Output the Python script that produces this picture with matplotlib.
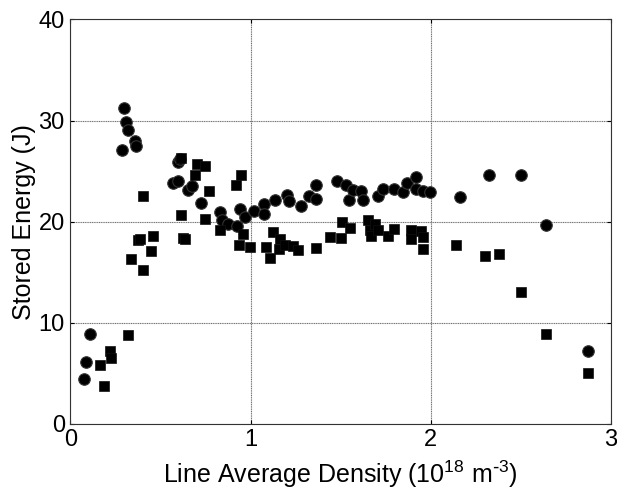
import numpy as np
import matplotlib
matplotlib.use("Agg")
from matplotlib import pyplot as plt

plt.rcParams['font.family'] = ['Liberation Sans', 'DejaVu Sans']
plt.rcParams['mathtext.default'] = 'regular'
plt.rcParams['axes.unicode_minus'] = False

# circles
dens_circ = [0.077, 0.085, 0.107, 0.286, 0.299, 0.307, 0.319, 0.360, 0.366,
             0.571, 0.595, 0.600, 0.606, 0.655, 0.674, 0.724, 0.831, 0.840,
             0.877, 0.923, 0.942, 0.970, 1.018, 1.077, 1.077, 1.135, 1.200,
             1.214, 1.279, 1.325, 1.362, 1.366, 1.482, 1.528, 1.544, 1.569,
             1.616, 1.625, 1.708, 1.736, 1.795, 1.847, 1.869, 1.917, 1.921,
             1.957, 1.995, 2.165, 2.323, 2.503, 2.642, 2.876]
energy_circ = [4.4, 6.1, 8.9, 27.1, 31.2, 29.9, 29.1, 28.0, 27.5,
               23.8, 25.9, 24.0, 26.2, 23.1, 23.5, 21.8, 21.0, 20.2,
               19.8, 19.6, 21.3, 20.5, 21.1, 21.7, 20.8, 22.1, 22.6,
               22.0, 21.5, 22.5, 22.2, 23.6, 24.0, 23.6, 22.1, 23.1,
               23.0, 22.1, 22.5, 23.2, 23.2, 22.9, 23.8, 24.4, 23.2,
               23.0, 22.9, 22.4, 24.6, 24.6, 19.7, 7.2]

# squares
dens_sq = [0.164, 0.186, 0.220, 0.223, 0.319, 0.338, 0.373, 0.385, 0.406,
           0.406, 0.445, 0.460, 0.615, 0.613, 0.626, 0.639, 0.691, 0.704,
           0.747, 0.750, 0.770, 0.830, 0.917, 0.935, 0.950, 0.957, 0.996,
           1.085, 1.107, 1.126, 1.159, 1.162, 1.190, 1.237, 1.261, 1.362,
           1.440, 1.500, 1.510, 1.551, 1.652, 1.662, 1.671, 1.689, 1.708,
           1.763, 1.797, 1.893, 1.893, 1.948, 1.957, 1.957, 2.142, 2.300,
           2.377, 2.503, 2.642, 2.876]
energy_sq = [5.8, 3.8, 7.2, 6.5, 8.8, 16.3, 18.2, 18.3, 15.2,
             22.5, 17.1, 18.6, 26.3, 20.7, 18.4, 18.3, 24.6, 25.7,
             25.5, 20.3, 23.0, 19.2, 23.6, 17.7, 24.6, 18.8, 17.5,
             17.5, 16.4, 19.0, 17.3, 18.3, 17.7, 17.6, 17.2, 17.4,
             18.5, 18.4, 20.0, 19.4, 20.2, 19.2, 18.6, 19.8, 19.2,
             18.6, 19.3, 19.2, 18.3, 19.1, 18.5, 17.3, 17.7, 16.6,
             16.8, 13.0, 8.9, 5.0]

xticks = [0, 1, 2, 3]
yticks = [0, 10, 20, 30, 40]

fig = plt.figure(figsize=(6.17, 4.97), dpi=100)
ax = fig.add_axes([0.114, 0.147, 0.876, 0.814])

ax.plot(dens_circ, energy_circ, 'o', color='black', markersize=8.3,
        markeredgecolor='#333333', markeredgewidth=0.8)
ax.plot(dens_sq, energy_sq, 's', color='black', markersize=7.8,
        markeredgecolor='#111111', markeredgewidth=0.5)

ax.set_xlim(0, 3)
ax.set_ylim(0, 40)
ax.set_xticks(xticks)
ax.set_yticks(yticks)
ax.grid(True, color='#707070', linestyle=(0, (1, 0.6)), linewidth=0.8)
ax.tick_params(direction='in', top=True, right=True, labelsize=17,
               length=3, pad=4)
for sp in ax.spines.values():
    sp.set_linewidth(0.8)
    sp.set_color('#333333')

# hyphen in the exponent like the original, not a minus sign
ax.set_xlabel('Line Average Density (10$^{18}$ m$^{\\text{-}3}$)', fontsize=18,
              labelpad=5)
ax.set_ylabel('Stored Energy (J)', fontsize=18, labelpad=2)

fig.savefig('out.png', dpi=100)
